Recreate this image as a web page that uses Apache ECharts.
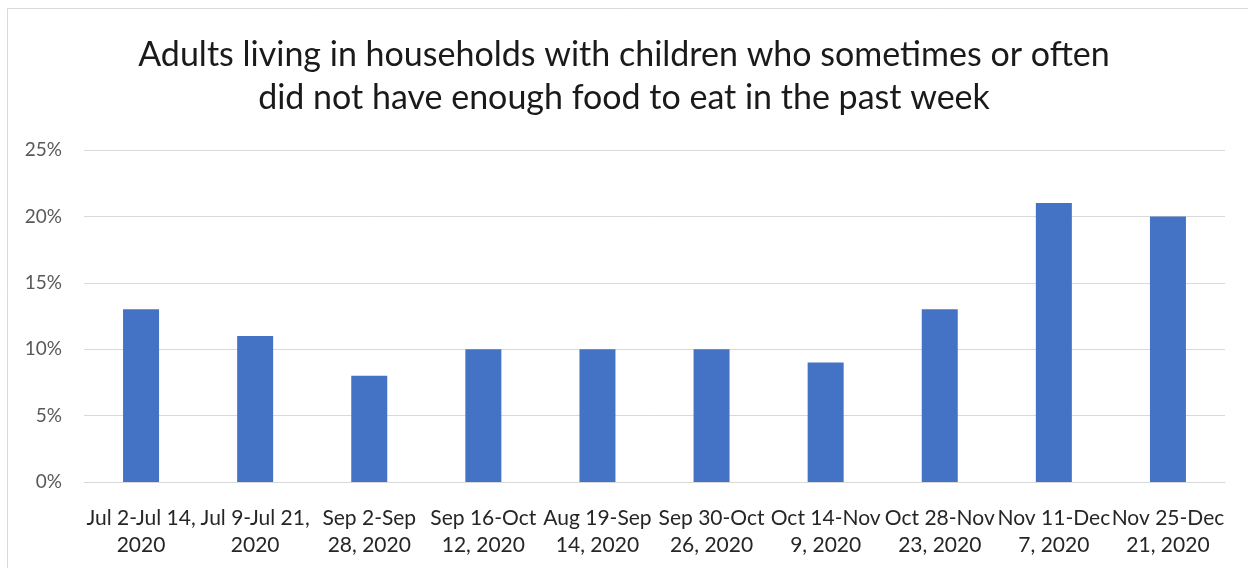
<!DOCTYPE html>
<html>
<head>
<meta charset="utf-8">
<script src="https://cdn.jsdelivr.net/npm/echarts@6/dist/echarts.min.js"></script>
<style>html,body{margin:0;padding:0;background:#fff;}#c{width:1248px;height:568px;}</style>
</head>
<body>
<div id="c"></div>
<script>
const titleText = 'Adults living in households with children who sometimes or often\ndid not have enough food to eat in the past week';
const categories = [
  'Jul 2-Jul 14,\n2020',
  'Jul 9-Jul 21,\n2020',
  'Sep 2-Sep\n28, 2020',
  'Sep 16-Oct\n12, 2020',
  'Aug 19-Sep\n14, 2020',
  'Sep 30-Oct\n26, 2020',
  'Oct 14-Nov\n9, 2020',
  'Oct 28-Nov\n23, 2020',
  'Nov 11-Dec\n7, 2020',
  'Nov 25-Dec\n21, 2020'
];
const values = [13, 11, 8, 10, 10, 10, 9, 13, 21, 20];
const yTicks = [0, 5, 10, 15, 20, 25];

const chart = echarts.init(document.getElementById('c'), null, {renderer: 'canvas'});
chart.setOption({
  animation: false,
  backgroundColor: '#fff',
  graphic: [{
    type: 'rect',
    shape: {x: 7.5, y: 8.5, width: 1300, height: 600},
    style: {fill: 'none', stroke: '#d9d9d9', lineWidth: 1},
    silent: true
  }],
  title: {
    text: titleText,
    left: 'center',
    top: 29,
    padding: [5, 0, 5, 8],
    textStyle: {
      fontFamily: 'Lato',
      fontWeight: 'normal',
      fontSize: 34,
      lineHeight: 43,
      color: '#1a1a1a'
    }
  },
  grid: {left: 84, right: 23, top: 150, bottom: 86, containLabel: false},
  xAxis: {
    type: 'category',
    data: categories,
    axisLine: {show: true, lineStyle: {color: '#d9d9d9', width: 1}},
    axisTick: {show: false},
    axisLabel: {
      interval: 0,
      margin: 23,
      fontFamily: 'Lato',
      fontSize: 21,
      lineHeight: 27,
      color: '#262626'
    }
  },
  yAxis: {
    type: 'value',
    min: yTicks[0],
    max: yTicks[yTicks.length - 1],
    interval: 5,
    axisLine: {show: false},
    axisTick: {show: false},
    splitLine: {lineStyle: {color: '#d9d9d9', width: 1}},
    axisLabel: {
      formatter: v => v + '%',
      margin: 22,
      fontFamily: 'Lato',
      fontSize: 19,
      color: '#595959'
    }
  },
  series: [{
    type: 'bar',
    data: values,
    barWidth: 36,
    itemStyle: {color: '#4472C4'}
  }]
});
</script>
</body>
</html>
